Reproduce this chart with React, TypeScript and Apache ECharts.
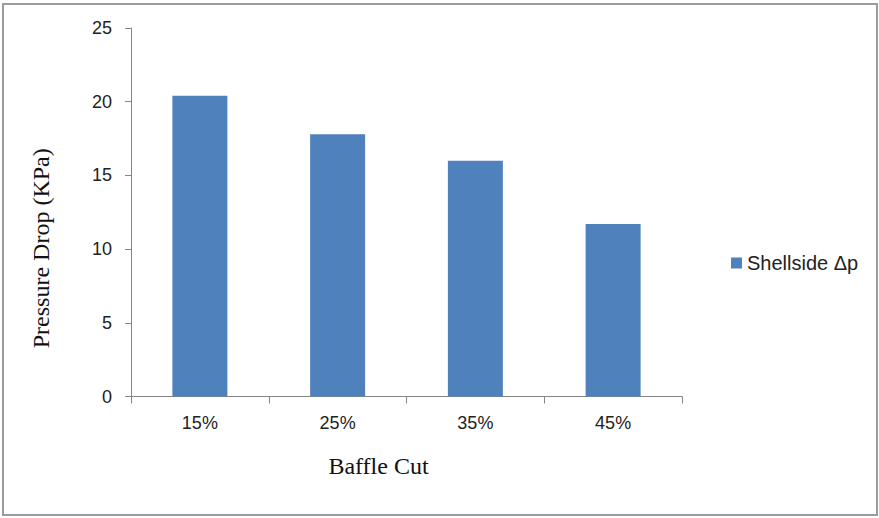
import React, { useEffect, useRef } from "react";
import * as echarts from "echarts";

// Baffle cut vs shell-side pressure drop
const categories = ["15%", "25%", "35%", "45%"];
const shellsideDp = [20.4, 17.8, 16.0, 11.7];
const seriesName = "Shellside \u0394p";
const yTitle = "Pressure Drop (KPa)";
const xTitle = "Baffle Cut";

const axisGray = "#868686";
const barBlue = "#4f81bd";

export default function App() {
  const ref = useRef<HTMLDivElement>(null);

  useEffect(() => {
    if (!ref.current) return;
    const chart = echarts.init(ref.current, null, { renderer: "svg" });
    chart.setOption({
      animation: false,
      backgroundColor: "#ffffff",
      grid: { left: 131, right: 197, top: 28, bottom: 121.5, containLabel: false },
      legend: {
        data: [seriesName],
        left: 726,
        top: 248,
        icon: "rect",
        itemWidth: 11,
        itemHeight: 11,
        textStyle: { fontFamily: "Liberation Sans", fontSize: 20, color: "#222" },
      },
      xAxis: {
        type: "category",
        data: categories,
        axisLine: { lineStyle: { color: axisGray, width: 1 } },
        axisTick: { show: true, length: 7, alignWithLabel: false, lineStyle: { color: axisGray } },
        axisLabel: { fontFamily: "Liberation Sans", fontSize: 18, color: "#222", margin: 17 },
        name: xTitle,
        nameLocation: "middle",
        nameGap: 57,
        // title sits left of the plot centre
        nameTextStyle: {
          fontFamily: "Liberation Serif",
          fontSize: 24,
          color: "#111",
          padding: [0, 56, 0, 0],
        },
      },
      yAxis: {
        type: "value",
        min: 0,
        max: 25,
        interval: 5,
        splitLine: { show: false },
        axisLine: { show: true, lineStyle: { color: axisGray, width: 1 } },
        axisTick: { show: true, length: 6, lineStyle: { color: axisGray } },
        axisLabel: { fontFamily: "Liberation Sans", fontSize: 18, color: "#222", margin: 19 },
        name: yTitle,
        nameLocation: "middle",
        nameGap: 78,
        nameRotate: 90,
        // title sits below the plot centre
        nameTextStyle: {
          fontFamily: "Liberation Serif",
          fontSize: 24,
          color: "#111",
          padding: [0, 72, 0, 0],
        },
      },
      series: [
        {
          name: seriesName,
          type: "bar",
          data: shellsideDp,
          barWidth: 55,
          itemStyle: { color: barBlue },
        },
      ],
      graphic: [
        {
          type: "rect",
          shape: { x: 3, y: 4, width: 874, height: 511 },
          style: { fill: "none", stroke: "#9c9c9c", lineWidth: 2 },
          silent: true,
        },
      ],
    });
    return () => chart.dispose();
  }, []);

  return (
    <div
      ref={ref}
      style={{ position: "fixed", left: 0, top: 0, width: 879, height: 518 }}
    />
  );
}
